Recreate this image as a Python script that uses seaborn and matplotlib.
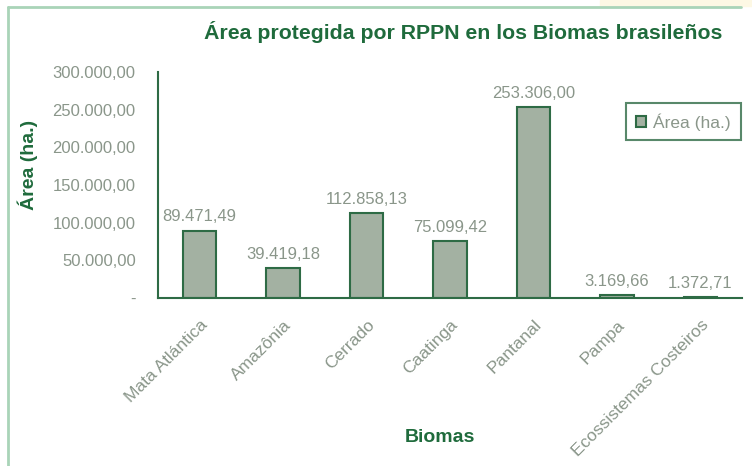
import pandas as pd
import seaborn as sns
import matplotlib.pyplot as plt
import numpy as np
from matplotlib.lines import Line2D
from matplotlib.patches import Rectangle

biomas = ["Mata Atlántica", "Amazônia", "Cerrado", "Caatinga", "Pantanal",
          "Pampa", "Ecossistemas Costeiros"]
area = [89471.49, 39419.18, 112858.13, 75099.42, 253306.00, 3169.66, 1372.71]
area_labels = ["89.471,49", "39.419,18", "112.858,13", "75.099,42",
               "253.306,00", "3.169,66", "1.372,71"]
ytick_vals = [0, 50000, 100000, 150000, 200000, 250000, 300000]
ytick_labels = ["-", "50.000,00", "100.000,00", "150.000,00",
                "200.000,00", "250.000,00", "300.000,00"]

dark_green = "#1f6b3c"
edge_green = "#2e6b45"
bar_color = "#a3b1a2"
gray_text = "#8a968a"

sns.set_style("white")
plt.rcParams['font.family'] = ['Liberation Sans', 'DejaVu Sans']

data = pd.DataFrame({"Biomas": biomas, "area": area})

fig = plt.figure(figsize=(7.52, 4.66), dpi=100)
ax = fig.add_axes([0.210, 0.361, 0.777, 0.484])

sns.barplot(data=data, x="Biomas", y="area", color=bar_color, width=0.4,
            edgecolor=edge_green, linewidth=1.5, saturation=1,
            label="Área (ha.)", ax=ax)

for i, (v, lab) in enumerate(zip(area, area_labels)):
    ax.text(i, v + 8000, lab, ha="center", va="bottom", fontsize=12,
            color=gray_text)

ax.set_xlim(-0.5, 6.5)
ax.set_ylim(0, 300000)
ax.set_yticks(ytick_vals)
ax.set_yticklabels(ytick_labels, color=gray_text, fontsize=12)
ax.set_xticks(range(len(biomas)))
ax.set_xticklabels(biomas, rotation=45, ha="right", rotation_mode="anchor",
                   color=gray_text, fontsize=12.5)
ax.set_xticks(np.arange(-0.5, 7, 1), minor=True)
ax.tick_params(axis="x", which="major", length=0, pad=14)
ax.tick_params(axis="x", which="minor", length=4, color=edge_green, width=1.2,
               direction="out")
ax.tick_params(axis="y", length=4, color=edge_green, width=1.2, direction="out",
               pad=12)

for side in ["top", "right"]:
    ax.spines[side].set_visible(False)
for side in ["left", "bottom"]:
    ax.spines[side].set_color(edge_green)
    ax.spines[side].set_linewidth(1.5)

ax.set_xlabel("")
fig.text(440 / 752, 1 - 438 / 466, "Biomas", ha="center", va="center",
         fontsize=14, fontweight="bold", color=dark_green)
ax.set_ylabel("Área (ha.)", fontsize=14, fontweight="bold", color=dark_green,
              va="center")
ax.yaxis.set_label_coords(-0.222, 0.59)

fig.text(463 / 752, 1 - 32 / 466, "Área protegida por RPPN en los Biomas brasileños",
         ha="center", va="center", fontsize=15.3, fontweight="bold",
         color=dark_green)

leg = ax.legend(loc="upper right", bbox_to_anchor=(1.012, 0.9), frameon=True,
                fancybox=False, handlelength=0.6, handleheight=0.6,
                handletextpad=0.4, borderpad=0.55, fontsize=12.5)
leg.get_frame().set_edgecolor(edge_green)
leg.get_frame().set_linewidth(1.5)
for t in leg.get_texts():
    t.set_color(gray_text)

# light green frame around the chart, cream strip in the top-right corner
fig.add_artist(Rectangle((600 / 752, 1 - 6 / 466), 152 / 752, 6 / 466,
                         transform=fig.transFigure, color="#fdf8e4", zorder=0))
frame_color = "#a9d4b8"
fig.add_artist(Line2D([0.010, 0.010], [0.0, 0.985], transform=fig.transFigure,
                      color=frame_color, linewidth=2))
fig.add_artist(Line2D([0.010, 0.985], [0.985, 0.985], transform=fig.transFigure,
                      color=frame_color, linewidth=2))

plt.savefig("out.png", dpi=100)
